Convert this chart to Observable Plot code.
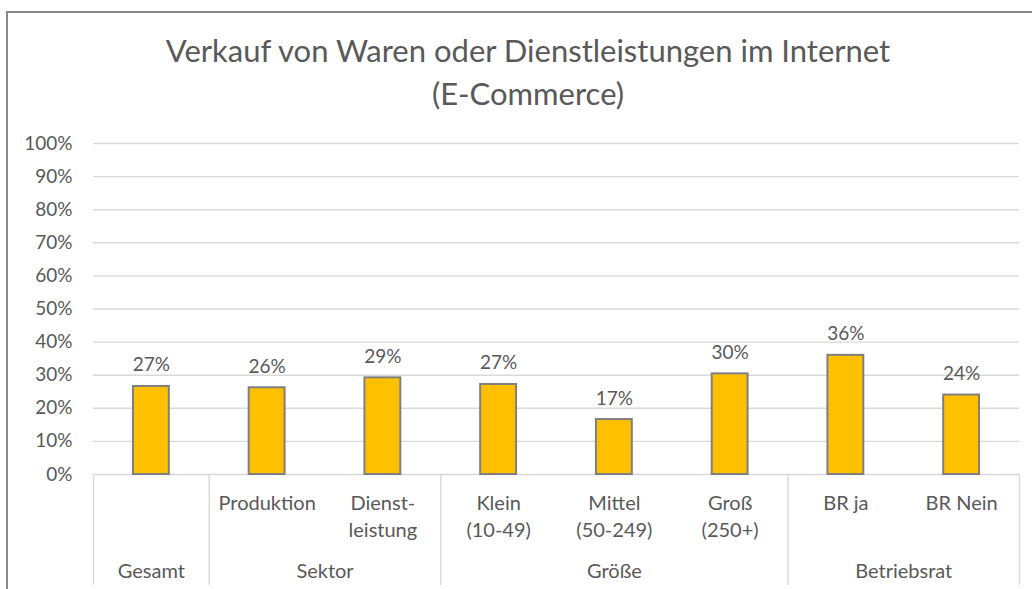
<!DOCTYPE html>
<html><head><meta charset="utf-8">
<script src="https://cdn.jsdelivr.net/npm/d3@7"></script>
<script src="https://cdn.jsdelivr.net/npm/@observablehq/plot@0.6"></script>
<style>
body{margin:0;background:#fff;}
#wrap{position:relative;width:1032px;height:589px;overflow:hidden;font-family:Lato,sans-serif;}
#frame{position:absolute;left:6px;top:11px;right:-10px;bottom:-10px;border-left:2px solid #8a8a8a;border-top:2px solid #8a8a8a;}
#title{position:absolute;left:0;width:1056px;top:29px;text-align:center;font-size:31px;line-height:43px;color:#595959;}
#chart{position:absolute;left:0;top:125px;}
</style></head><body>
<div id="wrap"><div id="frame"></div><div id="title"></div><div id="chart"></div></div>
<script>
const titleLines = ["Verkauf von Waren oder Dienstleistungen im Internet", "(E-Commerce)"];
const categories = ["", "Produktion", "Dienst-\nleistung", "Klein\n(10-49)", "Mittel\n(50-249)", "Groß\n(250+)", "BR ja", "BR Nein"];
const groups = ["Gesamt", "Sektor", "Sektor", "Größe", "Größe", "Größe", "Betriebsrat", "Betriebsrat"];
const values = [0.266, 0.262, 0.292, 0.272, 0.166, 0.304, 0.360, 0.240];
const valueLabels = ["27%", "26%", "29%", "27%", "17%", "30%", "36%", "24%"];
const yTicks = [0, 0.1, 0.2, 0.3, 0.4, 0.5, 0.6, 0.7, 0.8, 0.9, 1];

document.getElementById("title").innerHTML = titleLines.join("<br>");

const data = categories.map((c, i) => ({i, category: c, group: groups[i], value: values[i], label: valueLabels[i]}));

// group spans
const groupNames = [...new Set(groups)];
const groupData = groupNames.map(g => {
  const idx = data.filter(d => d.group === g).map(d => d.i);
  return {group: g, start: d3.min(idx) - 0.5, end: d3.max(idx) + 0.5, mid: d3.mean(idx)};
});
const boundaries = [...new Set(groupData.flatMap(g => [g.start, g.end]))];

const textColor = "#595959";
const half = 0.155;

const chart = Plot.plot({
  width: 1032,
  height: 464,
  marginTop: 18,
  marginBottom: 115,
  marginLeft: 93,
  marginRight: 13,
  style: {fontFamily: "Lato, sans-serif", color: textColor, background: "transparent"},
  x: {type: "linear", domain: [-0.5, categories.length - 0.5], axis: null},
  y: {domain: [0, 1], ticks: yTicks, tickFormat: d3.format(".0%"), tickSize: 0, tickPadding: 21, label: null},
  marks: [
    Plot.ruleY(yTicks, {stroke: "#d9d9d9", strokeWidth: 1.4}),
    Plot.ruleX(boundaries, {x: d => d, y1: 0, y2: 0, stroke: "#d9d9d9", strokeWidth: 1.4, insetBottom: -111}),
    Plot.rectY(data, {x1: d => d.i - half, x2: d => d.i + half, y: "value", fill: "#FFC000", stroke: "#7F7F7F", strokeWidth: 2}),
    Plot.text(data, {x: "i", y: "value", text: "label", lineAnchor: "bottom", dy: -15, fontSize: 19, fill: textColor}),
    Plot.text(data, {x: "i", y: () => 0, text: "category", lineAnchor: "top", dy: 16, lineHeight: 1.35, fontSize: 20, fill: textColor}),
    Plot.text(groupData, {x: "mid", y: () => 0, text: "group", lineAnchor: "top", dy: 89, fontSize: 20, fill: textColor})
  ]
});
chart.querySelectorAll('[aria-label="y-axis tick label"] text, [aria-label="y-axis"] text').forEach(t => t.setAttribute("font-size", 19));
document.getElementById("chart").appendChild(chart);
</script>
</body></html>
